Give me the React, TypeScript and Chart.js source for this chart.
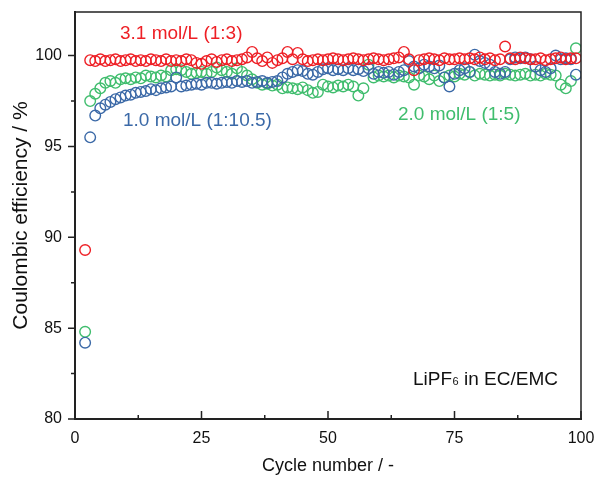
import React, { useEffect, useRef } from "react";
import { Chart, registerables } from "chart.js";

Chart.register(...registerables);

const CYCLES = [
  2, 3, 4, 5, 6, 7, 8, 9, 10, 11, 12, 13, 14, 15, 16, 17, 18, 19, 20, 21, 22, 23, 24, 25,
  26, 27, 28, 29, 30, 31, 32, 33, 34, 35, 36, 37, 38, 39, 40, 41, 42, 43, 44, 45, 46, 47, 48,
  49, 50, 51, 52, 53, 54, 55, 56, 57, 58, 59, 60, 61, 62, 63, 64, 65, 66, 67, 68, 69, 70, 71,
  72, 73, 74, 75, 76, 77, 78, 79, 80, 81, 82, 83, 84, 85, 86, 87, 88, 89, 90, 91, 92, 93, 94,
  95, 96, 97, 98, 99,
];

const RED_31 = [
  89.3,
  99.75, 99.7, 99.8, 99.7, 99.75, 99.8, 99.7, 99.75,
  99.8, 99.7, 99.75, 99.7, 99.8, 99.75, 99.7, 99.8, 99.7, 99.75,
  99.7, 99.8, 99.75, 99.6, 99.55, 99.7, 99.8, 99.65, 99.75, 99.8,
  99.7, 99.75, 99.8, 99.9, 100.2, 99.85, 99.7, 99.9, 99.6, 99.75,
  99.85, 100.2, 99.8, 100.15, 99.8, 99.7, 99.75, 99.8, 99.75, 99.8,
  99.85, 99.8, 99.75, 99.8, 99.85, 99.8, 99.75, 99.8, 99.85, 99.8,
  99.75, 99.8, 99.85, 99.9, 100.2, 99.8, 99.2, 99.75, 99.8, 99.85,
  99.8, 99.75, 99.85, 99.8, 99.8, 99.85, 99.8, 99.85, 99.8, 99.9,
  99.8, 99.85, 99.75, 99.8, 100.5, 99.85, 99.8, 99.9, 99.85, 99.8,
  99.8, 99.85, 99.75, 99.8, 99.85, 99.9, 99.8, 99.85, 99.85,
];

const BLUE_10 = [
  84.2,
  95.5, 96.7, 97.1, 97.3, 97.45, 97.6, 97.7, 97.8,
  97.85, 97.95, 98.0, 98.05, 98.15, 98.1, 98.2, 98.25, 98.3, 98.8,
  98.3, 98.35, 98.4, 98.45, 98.4, 98.5, 98.5, 98.45, 98.5, 98.55,
  98.5, 98.6, 98.55, 98.6, 98.5, 98.55, 98.6, 98.5, 98.55, 98.6,
  98.8, 99.0, 99.1, 99.2, 99.15, 99.0, 98.95, 99.1, 99.25, 99.3,
  99.2, 99.25, 99.2, 99.3, 99.2, 99.25, 99.15, 99.3, 99.0, 99.1,
  99.05, 99.1, 98.95, 99.1, 99.2, 99.7, 99.4, 99.3, 99.5, 99.4,
  99.3, 99.45, 98.8, 98.3, 99.0, 99.2, 99.3, 99.1, 100.05, 99.7,
  99.6, 99.5, 99.1, 99.0, 99.1, 99.8, 99.9, 99.85, 99.9, 99.8,
  99.4, 99.2, 99.1, 99.3, 100.0, 99.8, 99.85, 99.8, 98.95,
];

const GREEN_20 = [
  84.8,
  97.5, 97.9, 98.2, 98.5, 98.6, 98.5, 98.7, 98.75,
  98.7, 98.8, 98.75, 98.9, 98.85, 98.8, 98.9, 98.85, 99.2, 99.25,
  99.2, 99.1, 99.0, 99.05, 99.1, 99.0, 99.1, 99.35, 99.2, 99.1,
  99.0, 99.3, 99.1, 98.9, 98.7, 98.5, 98.4, 98.45, 98.35, 98.4,
  98.2, 98.25, 98.2, 98.15, 98.25, 98.1, 97.95, 98.0, 98.4, 98.3,
  98.25, 98.35, 98.3, 98.4, 98.3, 97.8, 98.2, 99.5, 98.8, 98.9,
  98.85, 98.9, 98.8, 98.9, 98.85, 98.8, 98.4, 98.9, 98.85, 98.7,
  98.9, 98.6, 98.8, 98.9, 98.85, 99.0, 98.95, 99.1, 98.9, 99.0,
  98.95, 98.9, 98.95, 98.9, 99.0, 98.95, 98.9, 98.95, 99.0, 98.9,
  98.95, 98.9, 99.0, 98.95, 98.9, 98.4, 98.2, 98.6, 100.4,
];

const X_TICKS = [0, 25, 50, 75, 100];
const X_MINOR = [12.5, 37.5, 62.5, 87.5];
const Y_TICKS = [80, 85, 90, 95, 100];
const Y_MINOR = [82.5, 87.5, 92.5, 97.5];

const RED = "#ee1f25";
const BLUE = "#3b69a7";
const GREEN = "#3fbd6d";
const FONT = "'Liberation Sans', Arial, sans-serif";

const toPoints = (vals: number[]) => vals.map((v, i) => ({ x: CYCLES[i], y: v }));

const decor = {
  id: "decor",
  afterDraw(chart: any) {
    const ctx = chart.ctx;
    const { left, right, top, bottom } = chart.chartArea;
    const xs = chart.scales.x;
    const ys = chart.scales.y;
    ctx.save();
    ctx.strokeStyle = "#222";
    ctx.lineWidth = 1.5;
    ctx.beginPath();
    ctx.moveTo(left, top);
    ctx.lineTo(right, top);
    ctx.lineTo(right, bottom);
    ctx.stroke();
    ctx.beginPath();
    for (const v of X_TICKS) {
      const px = xs.getPixelForValue(v);
      ctx.moveTo(px, bottom);
      ctx.lineTo(px, bottom - 8);
    }
    for (const v of X_MINOR) {
      const px = xs.getPixelForValue(v);
      ctx.moveTo(px, bottom);
      ctx.lineTo(px, bottom - 4);
    }
    for (const v of Y_TICKS) {
      const py = ys.getPixelForValue(v);
      ctx.moveTo(left, py);
      ctx.lineTo(left - 7, py);
    }
    for (const v of Y_MINOR) {
      const py = ys.getPixelForValue(v);
      ctx.moveTo(left, py);
      ctx.lineTo(left - 4, py);
    }
    ctx.stroke();

    ctx.fillStyle = "#111";
    ctx.textAlign = "center";
    ctx.textBaseline = "middle";
    ctx.font = `18px ${FONT}`;
    ctx.fillText("Cycle number / -", (left + right) / 2, 466);
    ctx.save();
    ctx.translate(21, (top + bottom) / 2);
    ctx.rotate(-Math.PI / 2);
    ctx.font = `21px ${FONT}`;
    ctx.fillText("Coulombic efficiency / %", 0, 0);
    ctx.restore();

    ctx.textAlign = "left";
    ctx.font = `19px ${FONT}`;
    ctx.fillStyle = RED;
    ctx.fillText("3.1 mol/L (1:3)", 120, 34);
    ctx.fillStyle = BLUE;
    ctx.fillText("1.0 mol/L (1:10.5)", 123, 121);
    ctx.fillStyle = GREEN;
    ctx.fillText("2.0 mol/L (1:5)", 398, 115);

    ctx.fillStyle = "#111";
    ctx.textBaseline = "alphabetic";
    let x = 413;
    const base = 385;
    ctx.font = `19px ${FONT}`;
    ctx.fillText("LiPF", x, base);
    x += ctx.measureText("LiPF").width;
    ctx.font = `11px ${FONT}`;
    ctx.fillText("6", x + 0.5, base);
    x += ctx.measureText("6").width + 0.5;
    ctx.font = `19px ${FONT}`;
    ctx.fillText(" in EC/EMC", x, base);
    ctx.restore();
  },
};

export default function App() {
  const ref = useRef<HTMLCanvasElement | null>(null);
  useEffect(() => {
    if (!ref.current) return;
    const mk = (label: string, data: number[], color: string, order: number) => ({
      label,
      data: toPoints(data),
      borderColor: color,
      backgroundColor: "rgba(0,0,0,0)",
      pointRadius: 5.3,
      pointBorderWidth: 1.4,
      showLine: false,
      order,
    });
    const chart = new Chart(ref.current, {
      type: "scatter",
      data: {
        datasets: [
          mk("3.1 mol/L (1:3)", RED_31, RED, 0),
          mk("1.0 mol/L (1:10.5)", BLUE_10, BLUE, 1),
          mk("2.0 mol/L (1:5)", GREEN_20, GREEN, 2),
        ],
      },
      options: {
        animation: false,
        responsive: false,
        maintainAspectRatio: false,
        layout: { padding: { top: 12, right: 16, left: 0, bottom: 0 } },
        plugins: { legend: { display: false }, tooltip: { enabled: false } },
        scales: {
          x: {
            type: "linear",
            min: 0,
            max: 100,
            afterBuildTicks: (s: any) => {
              s.ticks = X_TICKS.map((v) => ({ value: v }));
            },
            afterFit: (s: any) => {
              s.height = 58;
              s.paddingLeft = 0;
              s.paddingRight = 0;
            },
            grid: { display: false },
            border: { display: true, color: "#222", width: 2 },
            ticks: {
              color: "#111",
              font: { family: FONT, size: 16 },
              padding: 2,
              maxRotation: 0,
            },
          },
          y: {
            type: "linear",
            min: 80,
            max: 102.4,
            afterBuildTicks: (s: any) => {
              s.ticks = Y_TICKS.map((v) => ({ value: v }));
            },
            afterFit: (s: any) => {
              s.width = 75;
              s.paddingTop = 0;
              s.paddingBottom = 0;
            },
            grid: { display: false },
            border: { display: true, color: "#222", width: 2 },
            ticks: {
              color: "#111",
              font: { family: FONT, size: 16 },
              padding: 5,
            },
          },
        },
      },
      plugins: [decor],
    });
    return () => chart.destroy();
  }, []);
  return (
    <div style={{ position: "fixed", left: 0, top: 0, width: 597, height: 477, background: "#fff" }}>
      <canvas ref={ref} width={597} height={477} style={{ width: 597, height: 477 }} />
    </div>
  );
}
